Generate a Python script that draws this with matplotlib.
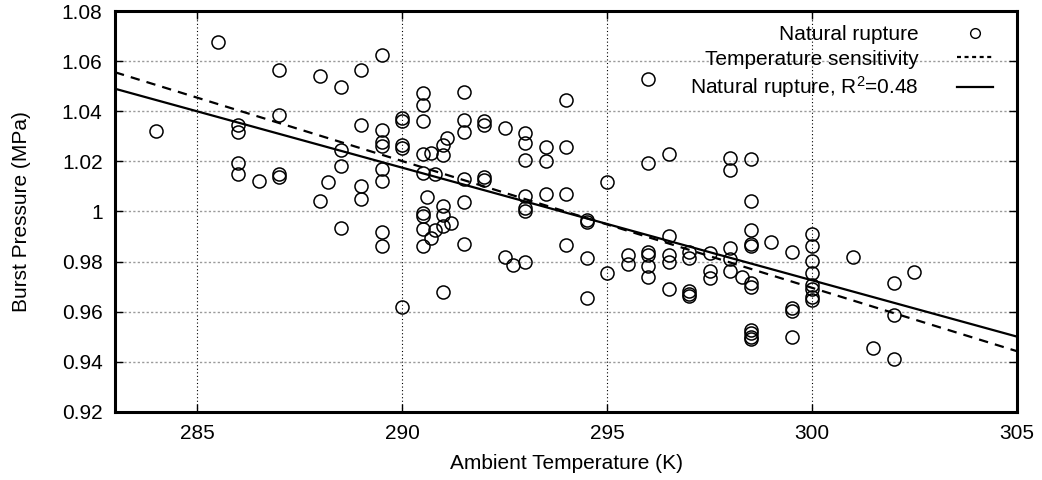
#!/usr/bin/env python3
# -*- coding: utf-8 -*-

import numpy as np
import matplotlib
matplotlib.use("Agg")
import matplotlib.pyplot as plt
from matplotlib.lines import Line2D
from matplotlib.patches import Rectangle
from matplotlib.ticker import FuncFormatter

# ========== data ==========
# ambient temperature (K) / burst pressure (MPa), natural rupture tests
ambient_temp = [
    284.0,
    285.5,
    286.0, 286.0, 286.0, 286.0,
    286.5,
    287.0, 287.0, 287.0, 287.0,
    288.0, 288.0,
    288.2,
    288.5, 288.5, 288.5, 288.5,
    289.0, 289.0, 289.0, 289.0,
    289.5, 289.5, 289.5, 289.5, 289.5, 289.5, 289.5, 289.5,
    290.0, 290.0, 290.0, 290.0, 290.0,
    290.5, 290.5, 290.5, 290.5, 290.5, 290.5, 290.5, 290.5, 290.5,
    290.6,
    290.7, 290.7,
    290.8, 290.8,
    291.0, 291.0, 291.0, 291.0, 291.0, 291.0,
    291.1,
    291.2,
    291.5, 291.5, 291.5, 291.5, 291.5, 291.5,
    292.0, 292.0, 292.0, 292.0,
    292.5, 292.5,
    292.7,
    293.0, 293.0, 293.0, 293.0, 293.0, 293.0, 293.0,
    293.5, 293.5, 293.5,
    294.0, 294.0, 294.0, 294.0,
    294.5, 294.5, 294.5, 294.5,
    295.0, 295.0,
    295.5, 295.5,
    296.0, 296.0, 296.0, 296.0, 296.0, 296.0,
    296.5, 296.5, 296.5, 296.5, 296.5,
    297.0, 297.0, 297.0, 297.0, 297.0,
    297.5, 297.5, 297.5,
    298.0, 298.0, 298.0, 298.0, 298.0,
    298.3,
    298.5, 298.5, 298.5, 298.5, 298.5, 298.5, 298.5, 298.5, 298.5, 298.5, 298.5,
    299.0,
    299.5, 299.5, 299.5, 299.5,
    300.0, 300.0, 300.0, 300.0, 300.0, 300.0, 300.0, 300.0,
    301.0,
    301.5,
    302.0, 302.0, 302.0,
    302.5,
]

burst_pressure = [
    1.0323,
    1.0676,
    1.0347, 1.0316, 1.0193, 1.0151,
    1.0123,
    1.0564, 1.0384, 1.0151, 1.0138,
    1.0540, 1.0040,
    1.0116,
    1.0496, 1.0247, 1.0183, 0.9934,
    1.0564, 1.0347, 1.0100, 1.0050,
    1.0623, 1.0324, 1.0276, 1.0260, 1.0170, 1.0123, 0.9918, 0.9860,
    1.0374, 1.0360, 1.0267, 1.0253, 0.9620,
    1.0474, 1.0427, 1.0362, 1.0231, 1.0153, 0.9994, 0.9980, 0.9930, 0.9860,
    1.0058,
    1.0234, 0.9894,
    1.0150, 0.9927,
    1.0267, 1.0227, 1.0023, 0.9987, 0.9940, 0.9680,
    1.0294,
    0.9953,
    1.0478, 1.0364, 1.0318, 1.0130, 1.0036, 0.9871,
    1.0362, 1.0345, 1.0138, 1.0124,
    1.0333, 0.9820,
    0.9787,
    1.0313, 1.0273, 1.0204, 1.0060, 1.0013, 1.0002, 0.9800,
    1.0256, 1.0203, 1.0071,
    1.0444, 1.0256, 1.0071, 0.9867,
    0.9967, 0.9956, 0.9813, 0.9653,
    1.0116, 0.9753,
    0.9827, 0.9790,
    1.0527, 1.0193, 0.9840, 0.9827, 0.9783, 0.9740,
    1.0231, 0.9903, 0.9827, 0.9800, 0.9690,
    0.9840, 0.9813, 0.9684, 0.9671, 0.9663,
    0.9834, 0.9763, 0.9733,
    1.0214, 1.0164, 0.9855, 0.9810, 0.9764,
    0.9738,
    1.0211, 1.0043, 0.9925, 0.9871, 0.9863, 0.9713, 0.9700, 0.9527, 0.9514, 0.9500, 0.9490,
    0.9878,
    0.9840, 0.9614, 0.9604, 0.9498,
    0.9911, 0.9863, 0.9803, 0.9756, 0.9707, 0.9690, 0.9658, 0.9647,
    0.9818,
    0.9454,
    0.9713, 0.9587, 0.9410,
    0.9759,
]

# linear fits p = a + b*T
fit_a, fit_b = 2.3225, -0.0045          # natural rupture fit, R^2 = 0.48
sens_a, sens_b = 2.4887, -0.005064      # temperature sensitivity

x_ticks = [285, 290, 295, 300, 305]
y_ticks = [0.92, 0.94, 0.96, 0.98, 1.00, 1.02, 1.04, 1.06, 1.08]

labels = ["Natural rupture", "Temperature sensitivity",
          r"Natural rupture, R$^{2}$=0.48"]


def main():
    plt.rcParams.update({
        "font.family": ["Liberation Sans", "DejaVu Sans"],
        "font.size": 15,
        "mathtext.fontset": "custom",
        "mathtext.rm": "Liberation Sans",
        "mathtext.it": "Liberation Sans:italic",
        "xtick.direction": "in",
        "ytick.direction": "in",
    })

    fig = plt.figure(figsize=(10.42, 4.8), dpi=100)
    ax = fig.add_axes([0.1104, 0.1422, 0.8656, 0.8346])

    t = np.array(ambient_temp)
    p = np.array(burst_pressure)

    ax.plot(t, p, ls="none", marker="o", ms=9.4, mfc="none", mec="black",
            mew=1.1, zorder=3)

    tt = np.array([283.0, 305.0])
    ax.plot(tt, sens_a + sens_b * tt, color="black", lw=1.6,
            ls=(0, (4.2, 3.2)), zorder=4)
    ax.plot(tt, fit_a + fit_b * tt, color="black", lw=1.6, zorder=4)

    ax.set_xlim(283, 305)
    ax.set_ylim(0.92, 1.08)
    ax.set_xticks(x_ticks)
    ax.set_yticks(y_ticks)
    ax.yaxis.set_major_formatter(FuncFormatter(lambda v, _: f"{v:g}"))

    ax.tick_params(top=True, right=True, length=6, width=1.0, pad=9)
    # gnuplot-like grid: black dotted verticals, grey dashed-dot horizontals
    ax.xaxis.grid(True, color="black", lw=0.8, ls=(0, (1, 2.2)), zorder=1)
    ax.yaxis.grid(True, color="#9a9a9a", lw=1.0, ls=(0, (1.6, 1.6)), zorder=1)
    for s in ax.spines.values():
        s.set_linewidth(2.2)

    ax.set_xlabel("Ambient Temperature (K)", labelpad=8)
    ax.set_ylabel("Burst Pressure (MPa)", labelpad=22)

    # key box (opaque, no border) hides the grid behind it, like gnuplot
    ax.add_patch(Rectangle((0.591, 0.786), 0.397, 0.214, transform=ax.transAxes,
                           facecolor="white", edgecolor="none", zorder=1.5))

    handles = [
        Line2D([], [], ls="none", marker="o", ms=7, mfc="none", mec="black", mew=1.0),
        Line2D([], [], color="black", lw=1.6, ls=(0, (1.8, 1.6))),
        Line2D([], [], color="black", lw=1.6),
    ]
    leg = ax.legend(handles, labels, loc="upper right", markerfirst=False,
                    bbox_to_anchor=(0.979, 0.978), borderaxespad=0.0,
                    frameon=False, handlelength=1.7, handletextpad=1.85,
                    labelspacing=0.27, borderpad=0.25)
    leg.set_zorder(5)

    fig.savefig("out.png", dpi=100)
    plt.close(fig)


if __name__ == "__main__":
    main()
